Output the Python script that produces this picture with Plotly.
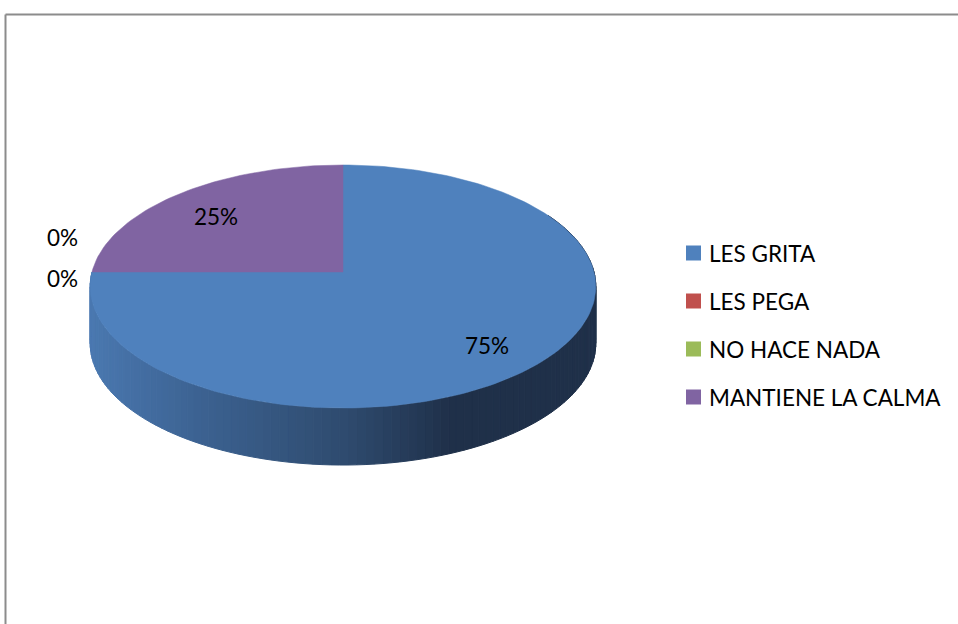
import math
import plotly.graph_objects as go

# ---- data ----
categories = ["LES GRITA", "LES PEGA", "NO HACE NADA", "MANTIENE LA CALMA"]
values = [75, 0, 0, 25]
colors = ["#4F81BD", "#C0504D", "#9BBB59", "#8064A2"]

# ---- layout constants (pixels) ----
W, H = 958, 624
cx, cy = 343, 272            # centre of top face
B, A, k = 251, 119.8, 0.1193 # perspective ellipse params
h = 57                       # depth of the pie side
FONT = dict(size=22.5, color="#000000", family="Lato")


def proj(x, d):
    s = 1.0 / (1.0 + k * d)
    return cx + B * x * s, cy - A * d * s


def pt(theta_deg, r=1.0):
    t = math.radians(theta_deg)
    return proj(r * math.sin(t), r * math.cos(t))


def hex2rgb(c):
    c = c.lstrip("#")
    return tuple(int(c[i:i + 2], 16) for i in (0, 2, 4))


def lerp_col(stops, x):
    if x <= stops[0][0]:
        return stops[0][1]
    for (x0, c0), (x1, c1) in zip(stops, stops[1:]):
        if x0 <= x <= x1:
            f = (x - x0) / (x1 - x0)
            a, b = hex2rgb(c0), hex2rgb(c1)
            return "rgb(%d,%d,%d)" % tuple(round(a[i] + (b[i] - a[i]) * f) for i in range(3))
    return stops[-1][1]


side_stops = [(90, "#4A78B0"), (200, "#3C6291"), (350, "#2E4A6D"),
              (450, "#1F3049"), (600, "#1F3049")]

fig = go.Figure()

total = sum(values)
angles = []
acc = 0.0
for v in values:
    a0 = acc / total * 360
    acc += v
    a1 = acc / total * 360
    angles.append((a0, a1))

# ---- side of the pie (front, visible part of first slice) ----
g0, g1 = angles[0]
start, end = max(g0, 60), min(g1, 300)
n = 120
for i in range(n):
    t1 = start + (end - start) * i / n
    t2 = start + (end - start) * (i + 1) / n
    sub = [t1 + (t2 - t1) * j / 3 for j in range(4)]
    top = [pt(t) for t in sub]
    bot = [(x, y + h) for x, y in reversed(top)]
    poly = top + bot + [top[0]]
    xm = sum(p[0] for p in top) / len(top)
    col = lerp_col(side_stops, xm)
    fig.add_trace(go.Scatter(
        x=[p[0] for p in poly], y=[p[1] for p in poly], mode="lines",
        fill="toself", fillcolor=col, line=dict(color=col, width=1),
        hoverinfo="skip", showlegend=False))

# ---- top faces ----
for (a0, a1), c, v in zip(angles, colors, values):
    if v == 0:
        continue
    m = max(4, int((a1 - a0) / 1.5))
    arc = [pt(a0 + (a1 - a0) * j / m) for j in range(m + 1)]
    poly = [(cx, cy)] + arc + [(cx, cy)]
    fig.add_trace(go.Scatter(
        x=[p[0] for p in poly], y=[p[1] for p in poly], mode="lines",
        fill="toself", fillcolor=c, line=dict(color=c, width=0.5),
        hoverinfo="skip", showlegend=False))

# ---- data labels ----
zero_shift = [-35, 6]
zi = 0
annotations = []
for (a0, a1), v in zip(angles, values):
    mid = (a0 + a1) / 2
    if v > 0:
        x, y = pt(mid, 0.76)
        annotations.append(dict(x=x, y=y, yshift=-5, text=f"{v}%",
                                xanchor="center", yanchor="middle", showarrow=False,
                                font=FONT))
    else:
        x, y = pt(mid, 1.0)
        annotations.append(dict(x=x - 12, y=y + zero_shift[zi], text=f"{v}%",
                                xanchor="right", yanchor="middle", showarrow=False,
                                font=FONT))
        zi += 1

# ---- legend (drawn manually) ----
leg_x, leg_y0, leg_dy = 693.5, 253, 48
fig.add_trace(go.Scatter(
    x=[leg_x] * len(categories),
    y=[leg_y0 + i * leg_dy for i in range(len(categories))],
    mode="markers", marker=dict(symbol="square", size=15, color=colors),
    hoverinfo="skip", showlegend=False))
for i, c in enumerate(categories):
    annotations.append(dict(x=leg_x + 13, y=leg_y0 + i * leg_dy, text=c,
                            xanchor="left", yanchor="middle", showarrow=False,
                            font=FONT))

frame = dict(color="#8C8C8C", width=2)
fig.update_layout(
    width=W, height=H, margin=dict(l=0, r=0, t=0, b=0),
    paper_bgcolor="white", plot_bgcolor="white",
    xaxis=dict(range=[0, W], visible=False, fixedrange=True),
    yaxis=dict(range=[H, 0], visible=False, fixedrange=True),
    showlegend=False,
    annotations=annotations,
    shapes=[
        dict(type="line", xref="x", yref="y", x0=5.5, y0=14.5, x1=W, y1=14.5,
             line=dict(color="#8C8C8C", width=2, dash="solid"), layer="below"),
        dict(type="line", xref="x", yref="y", x0=5.5, y0=14.5, x1=5.5, y1=H,
             line=frame, layer="below"),
    ],
)

fig.write_html("out.html", config={"displayModeBar": False},
               post_script="document.body.style.margin='0px';document.body.style.overflow='hidden';")
